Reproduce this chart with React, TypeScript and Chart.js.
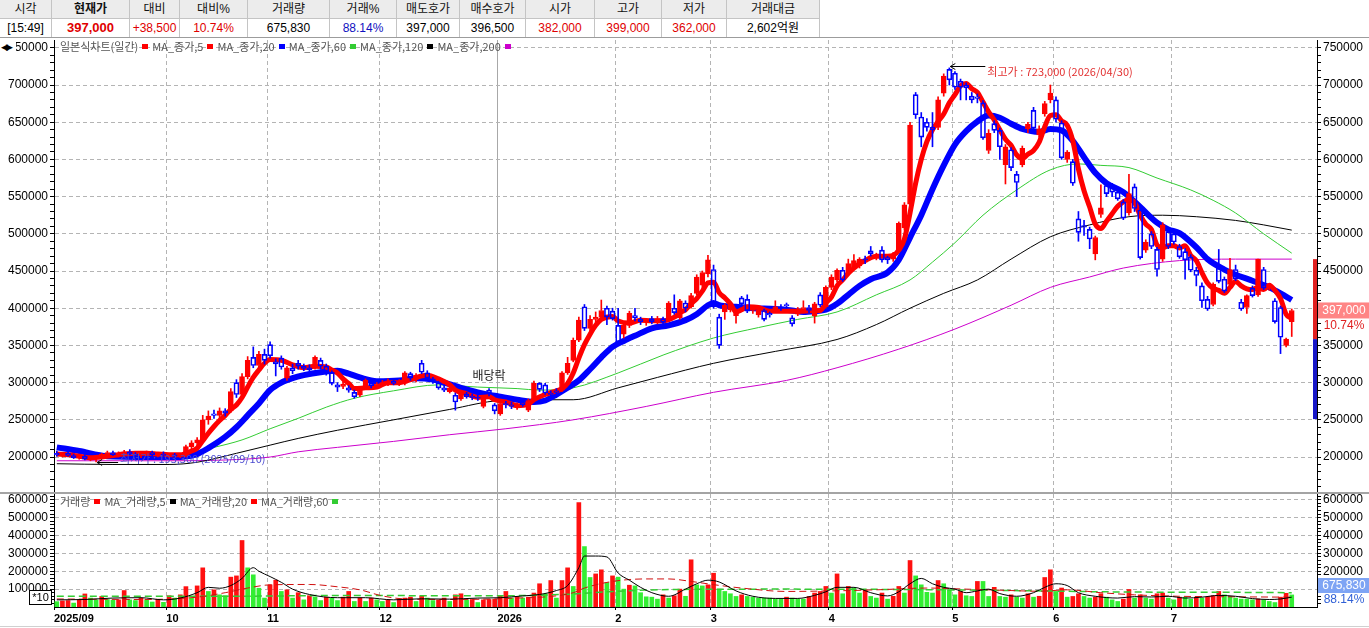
import React, { useEffect, useRef } from 'react';
import { Chart, registerables } from 'chart.js';

Chart.register(...registerables);
Chart.defaults.font.family = '"Liberation Sans", "Noto Sans CJK KR", sans-serif';

// ===== quote header =====
const HEAD_LABELS = ['시각', '현재가', '대비', '대비%', '거래량', '거래%', '매도호가', '매수호가', '시가', '고가', '저가', '거래대금'];
const HEAD_VALUES = ['[15:49]', '397,000', '+38,500', '10.74%', '675,830', '88.14%', '397,000', '396,500', '382,000', '399,000', '362,000', '2,602억원'];
const HEAD_COLORS = ['#000', '#e00000', '#e00000', '#e00000', '#000', '#1010c0', '#000', '#000', '#e00000', '#e00000', '#e00000', '#000'];
const HEAD_WIDTHS = [52, 78, 50, 68, 82, 67, 63, 66, 69, 67, 65, 93];

// ===== daily candles, thousand KRW: [open, high, low, close] =====
const OHLC_2025_09 = [
  [205, 208, 201, 203], [203, 206, 200, 205], [205, 207, 201, 202], [202, 204, 198, 199], [199, 203, 197, 201],
  [201, 203, 196, 197], [197, 200, 195, 198], [198, 201, 193.3, 200], [200, 205, 198, 204], [204, 208, 202, 206],
  [206, 208, 202, 203], [203, 207, 200, 205], [205, 209, 203, 207], [207, 210, 203, 204], [204, 206, 200, 202],
  [202, 206, 199, 205], [205, 208, 202, 206], [206, 208, 201, 203], [203, 206, 200, 204], [204, 207, 200, 202],
];
const OHLC_2025_10 = [
  [202, 205, 199, 203], [203, 205, 198, 201], [201, 205, 199, 204], [202, 216, 200, 214], [214, 222, 211, 219],
  [219, 226, 215, 223], [223, 256, 221, 250], [250, 262, 244, 255], [258, 263, 252, 256], [256, 266, 252, 262],
  [262, 265, 255, 259], [262, 292, 260, 288], [300, 304, 280, 284], [284, 312, 282, 308], [308, 335, 305, 330],
  [334, 348, 320, 323], [323, 342, 318, 338], [338, 345, 325, 330],
];
const OHLC_2025_11 = [
  [351, 355, 333, 336], [328, 332, 309, 325], [333, 336, 318, 321], [306, 322, 303, 320], [320, 325, 312, 316],
  [326, 330, 318, 322], [322, 325, 316, 319], [320, 324, 315, 317], [320, 336, 318, 334], [330, 333, 318, 322],
  [322, 325, 310, 314], [314, 316, 297, 299], [297, 300, 288, 294], [295, 302, 292, 298], [293, 296, 287, 290],
  [287, 290, 279, 281], [283, 294, 281, 292], [293, 305, 291, 303], [300, 302, 293, 296], [296, 300, 292, 298],
];
const OHLC_2025_12 = [
  [298, 303, 295, 300], [298, 305, 296, 302], [302, 304, 297, 299], [300, 304, 296, 301], [299, 315, 297, 313],
  [312, 314, 303, 306], [305, 312, 301, 310], [326, 330, 312, 314], [313, 316, 304, 306], [305, 307, 299, 302],
  [300, 302, 291, 293], [293, 297, 288, 290], [288, 295, 286, 293], [283, 286, 263, 274], [278, 288, 276, 286],
  [285, 287, 279, 281], [282, 285, 277, 280], [280, 283, 276, 279], [268, 281, 266, 279], [290, 292, 282, 285],
  [270, 272, 258, 262],
];
const OHLC_2026_01 = [
  [258, 274, 256, 272], [272, 275, 266, 270], [270, 274, 265, 268], [268, 273, 264, 271], [273, 276, 268, 270],
  [263, 278, 261, 276], [276, 302, 274, 299], [299, 300, 288, 291], [297, 299, 284, 286], [286, 289, 280, 284],
  [289, 292, 285, 287], [290, 315, 288, 313], [313, 334, 311, 326], [330, 360, 328, 357], [357, 388, 355, 384],
  [402, 405, 370, 373], [373, 390, 368, 385], [385, 395, 380, 388], [388, 411, 386, 397], [400, 403, 378, 388],
  [396, 400, 384, 386],
];
const OHLC_2026_02 = [
  [377, 400, 352, 355], [365, 380, 360, 377], [377, 396, 374, 393], [390, 400, 383, 387], [385, 388, 378, 382],
  [382, 386, 377, 383], [386, 389, 379, 382], [381, 389, 379, 386], [386, 388, 378, 381], [384, 409, 382, 407],
  [400, 418, 392, 394], [387, 412, 385, 410], [407, 410, 395, 400], [402, 420, 400, 417], [420, 445, 418, 442],
  [431, 450, 428, 448], [446, 471, 442, 465],
];
const OHLC_2026_03 = [
  [452, 458, 400, 402], [388, 392, 346, 350], [395, 406, 385, 404], [398, 409, 395, 407], [390, 399, 380, 397],
  [414, 416, 402, 406], [412, 418, 394, 396], [397, 404, 393, 402], [391, 400, 388, 398], [397, 399, 383, 385],
  [393, 395, 388, 391], [396, 410, 394, 402], [402, 405, 397, 400], [405, 407, 400, 403], [387, 390, 376, 379],
  [392, 401, 390, 399], [399, 410, 396, 401], [401, 404, 394, 397], [390, 408, 380, 406], [418, 421, 402, 404],
  [402, 430, 400, 428],
];
const OHLC_2026_04 = [
  [428, 445, 425, 442], [438, 453, 435, 451], [451, 455, 436, 438], [447, 466, 444, 460], [455, 472, 452, 464],
  [457, 468, 454, 466], [466, 470, 460, 465], [477, 483, 470, 473], [468, 474, 465, 471], [478, 483, 462, 465],
  [468, 470, 460, 465], [466, 475, 463, 472], [478, 516, 476, 514], [508, 542, 505, 539], [540, 650, 536, 646],
  [687, 690, 655, 660], [657, 663, 617, 630], [650, 655, 638, 643], [643, 663, 617, 640], [643, 684, 640, 680],
  [689, 715, 685, 712], [721, 723, 700, 707],
];
const OHLC_2026_05 = [
  [716, 718, 694, 697], [705, 708, 680, 697], [700, 703, 680, 696], [685, 690, 676, 680], [684, 688, 676, 682],
  [676, 679, 627, 629], [612, 640, 608, 635], [648, 652, 636, 639], [639, 642, 600, 617], [593, 620, 567, 617],
  [613, 616, 585, 589], [580, 584, 550, 569], [593, 618, 590, 615], [641, 650, 636, 647], [666, 670, 638, 642],
  [633, 645, 630, 641], [661, 678, 658, 675], [680, 700, 676, 689],
];
const OHLC_2026_06 = [
  [680, 684, 650, 654], [649, 652, 600, 602], [600, 612, 596, 610], [597, 600, 565, 568], [520, 530, 490, 502],
  [511, 518, 498, 509], [506, 509, 480, 493], [473, 497, 465, 495], [526, 566, 522, 535], [565, 570, 550, 554],
  [563, 568, 550, 556], [556, 560, 545, 547], [543, 546, 519, 521], [528, 580, 525, 554], [563, 567, 530, 534],
  [532, 536, 466, 468], [478, 492, 475, 489], [500, 503, 480, 483], [479, 482, 443, 452], [466, 515, 463, 512],
  [503, 506, 480, 483],
];
const OHLC_2026_07 = [
  [500, 503, 486, 489], [483, 486, 467, 469], [476, 480, 439, 465], [469, 472, 449, 451], [451, 455, 430, 444],
  [430, 434, 401, 410], [412, 416, 397, 399], [405, 434, 403, 432], [454, 479, 434, 436], [439, 442, 421, 423],
  [432, 467, 430, 452], [452, 458, 437, 439], [408, 412, 397, 399], [401, 418, 393, 417], [427, 430, 415, 417],
  [418, 466, 416, 466], [452, 455, 425, 427], [429, 433, 424, 429], [410, 413, 380, 382], [401, 403, 339, 361],
  [350, 360, 348, 358.5], [382, 399, 362, 397],
];
const CANDLES = [
  ...OHLC_2025_09, ...OHLC_2025_10, ...OHLC_2025_11, ...OHLC_2025_12, ...OHLC_2026_01, ...OHLC_2026_02,
  ...OHLC_2026_03, ...OHLC_2026_04, ...OHLC_2026_05, ...OHLC_2026_06, ...OHLC_2026_07,
];

// ===== daily volume (axis unit = x10 shares), in thousands =====
const VOL_2025_09 = [30, 34, 36, 22, 40, 73, 50, 40, 59, 42, 38, 40, 92, 40, 36, 50, 40, 28, 42, 26];
const VOL_2025_10 = [63, 50, 68, 114, 50, 118, 219, 87, 96, 68, 63, 167, 174, 372, 219, 180, 105, 50];
const VOL_2025_11 = [124, 150, 87, 96, 50, 80, 40, 63, 55, 36, 55, 50, 36, 55, 87, 31, 50, 31, 50, 40];
const VOL_2025_12 = [31, 40, 25, 44, 50, 55, 31, 63, 50, 36, 40, 50, 31, 68, 74, 40, 42, 25, 40, 42, 44];
const VOL_2026_01 = [63, 87, 50, 59, 50, 55, 78, 130, 74, 148, 50, 148, 219, 115, 584, 338, 165, 185, 208, 137, 174];
const VOL_2026_02 = [167, 100, 122, 118, 80, 57, 55, 44, 68, 50, 63, 100, 60, 264, 124, 118, 124];
const VOL_2026_03 = [189, 100, 87, 74, 59, 68, 59, 55, 50, 50, 50, 44, 44, 55, 50, 44, 44, 59, 78, 87, 115];
const VOL_2026_04 = [78, 185, 74, 115, 106, 78, 96, 59, 50, 78, 44, 60, 115, 78, 260, 174, 124, 82, 78, 148, 130, 96];
const VOL_2026_05 = [68, 87, 63, 59, 143, 143, 59, 110, 59, 55, 68, 55, 50, 74, 55, 60, 165, 208];
const VOL_2026_06 = [87, 106, 55, 59, 74, 59, 50, 55, 74, 55, 40, 31, 44, 98, 50, 68, 50, 44, 74, 78, 50];
const VOL_2026_07 = [40, 55, 55, 44, 55, 50, 55, 63, 87, 68, 59, 50, 44, 44, 40, 45, 40, 31, 25, 55, 76.677, 67.583];
const VOLUMES = [
  ...VOL_2025_09, ...VOL_2025_10, ...VOL_2025_11, ...VOL_2025_12, ...VOL_2026_01, ...VOL_2026_02,
  ...VOL_2026_03, ...VOL_2026_04, ...VOL_2026_05, ...VOL_2026_06, ...VOL_2026_07,
];

// ===== moving averages: [dayIndex, value in thousands] =====
const MA5_CLOSE = [
  [0, 204], [2, 203], [4, 201], [6, 199], [8, 200], [10, 202], [12, 204], [14, 205], [16, 205], [18, 204], [20, 203],
  [22, 203], [23, 205], [24, 208], [25, 212], [26, 222], [27, 232], [28, 241], [29, 249], [30, 256], [31, 264],
  [32, 270], [33, 280], [34, 294], [35, 307], [36, 317], [37, 326], [38, 331], [40, 330], [42, 324], [44, 320],
  [46, 322], [48, 321], [49, 317], [50, 313], [51, 305], [52, 299], [53, 292], [55, 293], [57, 294], [59, 300],
  [61, 300], [63, 304], [65, 309], [66, 310], [68, 305], [70, 297], [71, 290], [73, 285], [75, 280], [77, 281],
  [78, 277], [80, 274], [82, 269], [84, 271], [85, 277], [87, 284], [89, 289], [90, 292], [91, 299], [92, 313],
  [93, 333], [94, 351], [95, 365], [96, 377], [97, 385], [99, 389], [100, 383], [102, 380], [104, 384], [106, 383],
  [108, 383], [110, 388], [111, 394], [112, 398], [113, 406], [114, 413], [115, 423], [116, 434], [117, 435],
  [118, 421], [119, 414], [120, 406], [121, 395], [122, 398], [123, 402], [125, 401], [127, 396], [129, 396],
  [131, 396], [133, 396], [135, 397], [136, 397], [137, 407], [138, 415], [139, 430], [140, 438], [141, 447],
  [142, 454], [143, 460], [144, 464], [145, 468], [146, 470], [148, 470], [149, 471], [150, 478], [151, 493],
  [152, 528], [153, 568], [154, 600], [155, 624], [156, 640], [157, 651], [158, 661], [159, 676], [160, 687],
  [161, 699], [162, 702], [163, 695], [164, 690], [165, 677], [166, 664], [167, 653], [168, 640], [169, 627],
  [170, 619], [171, 606], [172, 601], [173, 607], [174, 612], [175, 623], [176, 644], [177, 659], [178, 660],
  [179, 652], [180, 646], [181, 625], [182, 587], [183, 558], [184, 536], [185, 513], [186, 507], [187, 517],
  [188, 527], [189, 537], [190, 543], [191, 546], [192, 542], [193, 525], [194, 513], [195, 506], [196, 485],
  [197, 481], [198, 484], [199, 484], [200, 481], [201, 484], [202, 471], [203, 464], [204, 448], [205, 434],
  [206, 427], [207, 424], [208, 420], [209, 428], [210, 436], [211, 430], [212, 426], [213, 425], [214, 428],
  [215, 425], [216, 431], [217, 424], [218, 413], [219, 392], [220, 386],
];
const MA20_CLOSE = [
  [0, 213], [4, 208], [9, 201], [16, 200], [22, 200], [25, 204], [27, 212], [30, 227], [32, 240], [34, 256],
  [36, 272], [38, 290], [40, 300], [42, 306], [44, 310], [47, 314], [50, 316], [52, 312], [54, 307], [57, 302],
  [61, 303], [64, 306], [67, 304], [69, 300], [72, 293], [75, 287], [79, 281], [82, 277], [85, 274], [87, 276],
  [89, 284], [91, 293], [93, 303], [95, 318], [97, 334], [99, 348], [101, 356], [103, 363], [106, 373], [109, 377],
  [112, 384], [114, 392], [116, 404], [117, 407], [118, 404], [121, 402], [124, 400], [128, 399], [131, 397],
  [133, 395], [135, 396], [137, 398], [139, 406], [141, 418], [143, 430], [145, 439], [148, 448], [150, 465],
  [152, 495], [154, 525], [156, 560], [158, 592], [160, 620], [162, 638], [164, 651], [166, 659], [168, 656],
  [170, 648], [172, 641], [175, 637], [177, 641], [179, 639], [181, 625], [183, 603], [185, 582], [187, 568],
  [190, 556], [193, 536], [196, 515], [198, 506], [200, 501], [203, 482], [205, 466], [208, 452], [210, 445],
  [213, 437], [216, 428], [218, 420], [220, 411],
];
const MA60_CLOSE = [
  [0, 203], [10, 201], [20, 201], [23, 205], [28, 213], [33, 223], [38, 238], [43, 252], [48, 267], [53, 279],
  [60, 289], [68, 297], [75, 294], [82, 292], [86, 290], [92, 293], [100, 313], [108, 337], [117, 360], [125, 374],
  [132, 385], [139, 395], [146, 418], [152, 438], [156, 462], [160, 488], [165, 525], [171, 559], [177, 586],
  [182, 594], [186, 592], [191, 589], [196, 575], [202, 559], [206, 545], [210, 528], [215, 500], [220, 474],
];
const MA120_CLOSE = [
  [0, 191], [10, 190], [20, 190], [25, 193], [32, 205], [38, 216], [43, 225], [50, 236], [60, 250], [70, 264],
  [79, 276], [86, 277], [92, 277], [100, 293], [107, 307], [117, 326], [128, 342], [139, 358], [146, 378],
  [152, 400], [158, 420], [164, 438], [170, 466], [177, 496], [184, 512], [191, 523], [197, 525], [203, 523],
  [210, 518], [215, 512], [220, 505],
];
const MA200_CLOSE = [
  [0, 195], [20, 195], [30, 196], [38, 200], [43, 207], [50, 213], [60, 221], [70, 230], [80, 238], [92, 250],
  [105, 268], [117, 287], [130, 303], [139, 320], [150, 345], [160, 372], [170, 404], [177, 428], [184, 442],
  [190, 454], [200, 464], [210, 466], [220, 466],
];
const MA5_VOL = [
  [0, 40], [5, 42], [10, 50], [15, 52], [19, 40], [22, 50], [25, 80], [27, 110], [29, 105], [31, 120], [33, 160],
  [35, 220], [36, 200], [38, 170], [40, 138], [42, 100], [45, 70], [50, 52], [55, 52], [60, 40], [65, 46], [70, 44],
  [75, 50], [79, 52], [83, 62], [86, 70], [89, 92], [91, 120], [93, 220], [94, 285], [96, 285], [98, 280],
  [100, 190], [102, 150], [104, 110], [106, 80], [109, 60], [112, 100], [114, 130], [116, 150], [118, 140],
  [121, 90], [124, 60], [128, 48], [132, 48], [135, 65], [137, 85], [139, 110], [142, 110], [145, 80], [148, 62],
  [150, 85], [152, 130], [154, 160], [156, 130], [158, 110], [160, 100], [162, 80], [164, 90], [166, 100],
  [168, 75], [171, 60], [174, 80], [176, 110], [178, 130], [180, 120], [182, 80], [185, 60], [189, 50], [192, 58],
  [195, 56], [198, 60], [201, 50], [204, 55], [207, 65], [210, 60], [213, 47], [216, 42], [218, 45], [220, 55],
];
const MA20_VOL = [
  [0, 45], [15, 42], [25, 55], [30, 80], [34, 106], [38, 124], [45, 126], [50, 113], [54, 96], [58, 62], [62, 45],
  [70, 42], [78, 45], [82, 50], [88, 59], [92, 80], [94, 106], [99, 143], [105, 157], [109, 157], [113, 143],
  [117, 125], [122, 106], [130, 87], [138, 90], [146, 96], [155, 106], [162, 100], [170, 92], [175, 88], [180, 96],
  [186, 80], [192, 68], [200, 60], [210, 57], [220, 55],
];
const MA60_VOL = [
  [0, 60], [30, 60], [50, 64], [79, 63], [90, 70], [100, 88], [110, 98], [130, 100], [150, 98], [170, 92],
  [190, 84], [210, 82], [220, 80],
];

// ===== axis / annotation constants =====
const MONTH_TICKS = [-0.5, 19.5, 37.5, 57.5, 78.5, 99.5, 116.5, 137.5, 159.5, 177.5, 198.5];
const MONTH_LABELS = ['2025/09', '10', '11', '12', '2026', '2', '3', '4', '5', '6', '7'];
const YEAR_TICK = 78.5;
const X_MIN = -0.5;
const X_MAX = 224.5;
const PRICE_MIN = 153000;
const PRICE_MAX = 760500;
const VOL_MAX = 632000;
const HIGH_MARK = { idx: 159, price: 723000, date: '2026/04/30' };
const LOW_MARK = { idx: 7, price: 193300, date: '2025/09/10' };
const EXDIV_MARK = { idx: 77, text: '배당락' };
const LAST = { price: 397000, rate: '10.74%', prevClose: 358500, upper: 466000, lower: 251000 };
const LAST_VOL = { text: '675,830', rate: '88.14%' };

const K = 1000;
const UP = '#ff0000';
const DOWN = '#0000ff';
const GREEN = '#33cc33';
const MAGENTA = '#cc00cc';
const GRID = '#b4b4b4';
const AX_FONT = { family: 'Liberation Sans', size: 12 };
const KR_FONT = '"Noto Sans CJK KR", sans-serif';

const fmt = (v: number) => v.toLocaleString('en-US');

function tickList(from: number, to: number, step: number) {
  const out: any[] = [];
  for (let v = from; v <= to; v += step) out.push({ value: v });
  return out;
}

function yAxis(position: string, width: number, gridOn: boolean, min: number, max: number, ticks: () => any[], major: number, minLabel: number) {
  return {
    type: 'linear',
    position,
    min,
    max,
    afterBuildTicks: (s: any) => { s.ticks = ticks(); },
    ticks: {
      autoSkip: false,
      font: AX_FONT,
      color: '#000',
      padding: 2,
      callback: (v: number) => (v % major === 0 && v >= minLabel ? String(v) : ''),
    },
    grid: {
      drawOnChartArea: gridOn,
      color: (c: any) => (c.tick && c.tick.value % major === 0 ? GRID : 'rgba(0,0,0,0)'),
      tickColor: '#000',
      tickLength: 4,
      lineWidth: 1,
    },
    border: { display: true, color: '#000', width: 1, dash: [4, 3] },
    afterFit: (s: any) => { s.width = width; s.paddingTop = 0; s.paddingBottom = 0; },
  };
}

function lineDs(pts: number[][], color: string, width: number, order: number, axis: string, dash?: number[]) {
  return {
    type: 'line',
    data: pts.map(([x, v]) => ({ x, y: v * K })),
    borderColor: color,
    borderWidth: width,
    borderDash: dash || [],
    pointRadius: 0,
    fill: false,
    cubicInterpolationMode: 'monotone',
    order,
    xAxisID: 'x',
    yAxisID: axis,
  };
}

const priceOverlay = {
  id: 'priceOverlay',
  afterDraw(chart: any) {
    const { ctx, chartArea } = chart;
    const xs = chart.scales.x;
    const ys = chart.scales.y;
    ctx.save();
    ctx.lineWidth = 1;
    ctx.strokeStyle = '#000';
    // highest price mark
    const hx = xs.getPixelForValue(HIGH_MARK.idx);
    const hy = Math.round(ys.getPixelForValue(HIGH_MARK.price)) - 1.5;
    ctx.beginPath();
    ctx.moveTo(hx + 1, hy); ctx.lineTo(hx + 36, hy);
    ctx.moveTo(hx + 1, hy); ctx.lineTo(hx + 6, hy - 3);
    ctx.moveTo(hx + 1, hy); ctx.lineTo(hx + 6, hy + 3);
    ctx.stroke();
    ctx.font = '11px ' + KR_FONT;
    ctx.textBaseline = 'middle';
    ctx.textAlign = 'left';
    ctx.fillStyle = '#e23030';
    ctx.fillText(`최고가 : ${fmt(HIGH_MARK.price)} (${HIGH_MARK.date})`, hx + 38, hy + 5);
    // lowest price mark
    const lx = xs.getPixelForValue(LOW_MARK.idx);
    const ly = Math.round(ys.getPixelForValue(LOW_MARK.price)) + 0.5;
    ctx.beginPath();
    ctx.moveTo(lx + 1, ly); ctx.lineTo(lx + 22, ly);
    ctx.moveTo(lx + 1, ly); ctx.lineTo(lx + 6, ly - 3);
    ctx.moveTo(lx + 1, ly); ctx.lineTo(lx + 6, ly + 3);
    ctx.stroke();
    ctx.fillStyle = '#4a4ad0';
    ctx.fillText(`최저가 : ${fmt(LOW_MARK.price)} (${LOW_MARK.date})`, lx + 24, ly - 4);
    // ex-dividend mark
    const ex = CANDLES[EXDIV_MARK.idx];
    ctx.font = '12px ' + KR_FONT;
    ctx.textAlign = 'center';
    ctx.fillStyle = '#222';
    ctx.fillText(EXDIV_MARK.text, xs.getPixelForValue(EXDIV_MARK.idx), ys.getPixelForValue(ex[1] * K) - 13);
    // price-limit bar on the right axis
    const yu = ys.getPixelForValue(LAST.upper);
    const yp = ys.getPixelForValue(LAST.prevClose);
    const yl = ys.getPixelForValue(LAST.lower);
    ctx.fillStyle = '#e02020';
    ctx.fillRect(chartArea.right - 4, yu, 4, yp - yu);
    ctx.fillStyle = '#1616c8';
    ctx.fillRect(chartArea.right - 4, yp, 4, yl - yp);
    // current price label
    const py = ys.getPixelForValue(LAST.price);
    const bx = chartArea.right + 1;
    ctx.fillStyle = '#ff8585';
    ctx.fillRect(bx, py - 8, 51, 16);
    ctx.font = '12px "Liberation Sans"';
    ctx.fillStyle = '#fff';
    ctx.fillText(fmt(LAST.price), bx + 26, py);
    ctx.fillStyle = '#e02020';
    ctx.fillText(LAST.rate, bx + 26, py + 15);
    ctx.restore();
  },
};

const volOverlay = {
  id: 'volOverlay',
  afterDraw(chart: any) {
    const { ctx, chartArea } = chart;
    ctx.save();
    ctx.textBaseline = 'middle';
    ctx.textAlign = 'center';
    ctx.font = '11px "Liberation Sans"';
    // unit box
    const ux = chartArea.left - 24.5;
    const uy = chartArea.bottom - 16.5;
    ctx.fillStyle = '#fff';
    ctx.fillRect(ux, uy, 22, 14);
    ctx.strokeStyle = '#000';
    ctx.lineWidth = 1;
    ctx.strokeRect(ux, uy, 22, 14);
    ctx.fillStyle = '#000';
    ctx.fillText('*10', ux + 11, uy + 7);
    // current volume label
    const bx = chartArea.right + 1;
    const by = chartArea.bottom - 29;
    ctx.fillStyle = '#7ea4f4';
    ctx.fillRect(bx, by, 51, 15);
    ctx.font = '12px "Liberation Sans"';
    ctx.fillStyle = '#fff';
    ctx.fillText(LAST_VOL.text, bx + 26, by + 7.5);
    ctx.fillStyle = '#2f5fd6';
    ctx.fillText(LAST_VOL.rate, bx + 26, by + 22);
    ctx.restore();
  },
};

function priceConfig(): any {
  const up = (c: number[]) => c[3] >= c[0];
  const colors = CANDLES.map((c) => (up(c) ? UP : DOWN));
  const common = { type: 'bar', grouped: false, yAxisID: 'y', xAxisID: 'x' };
  return {
    type: 'bar',
    data: {
      datasets: [
        { ...common, data: CANDLES.map((c, i) => ({ x: i, y: [Math.max(c[0], c[3]) * K, c[1] * K] })), backgroundColor: colors, barThickness: 1, order: 3 },
        { ...common, data: CANDLES.map((c, i) => ({ x: i, y: [c[2] * K, Math.min(c[0], c[3]) * K] })), backgroundColor: colors, barThickness: 1, order: 3 },
        {
          ...common,
          data: CANDLES.map((c, i) => ({ x: i, y: [c[0] * K, c[3] * K] })),
          backgroundColor: CANDLES.map((c) => (up(c) ? UP : 'rgba(255,255,255,0)')),
          borderColor: colors,
          borderWidth: 1,
          borderSkipped: false,
          barThickness: 5,
          minBarLength: 1,
          order: 2,
        },
        lineDs(MA200_CLOSE, MAGENTA, 1, 20, 'y'),
        lineDs(MA120_CLOSE, '#000', 1, 19, 'y'),
        lineDs(MA60_CLOSE, GREEN, 1, 18, 'y'),
        lineDs(MA20_CLOSE, '#0000ff', 6, 17, 'y'),
        lineDs(MA5_CLOSE, '#ff0000', 5, 16, 'y'),
      ],
    },
    options: {
      responsive: false,
      animation: false,
      events: [],
      layout: { padding: { top: 2, bottom: 2, left: 0, right: 0 }, autoPadding: false },
      plugins: { legend: { display: false }, tooltip: { enabled: false } },
      scales: {
        x: {
          type: 'linear',
          min: X_MIN,
          max: X_MAX,
          offset: false,
          afterBuildTicks: (s: any) => { s.ticks = MONTH_TICKS.slice(1).map((v) => ({ value: v })); },
          ticks: { display: false },
          grid: { offset: false, color: (c: any) => (c.tick && c.tick.value === YEAR_TICK ? '#a8a8a8' : GRID), drawTicks: false, lineWidth: 1 },
          border: { display: false, dash: (c: any) => (c.tick && c.tick.value === YEAR_TICK ? [] : [4, 3]) },
          afterFit: (s: any) => { s.height = 0; s.paddingLeft = 0; s.paddingRight = 0; },
        },
        y: yAxis('left', 54, true, PRICE_MIN, PRICE_MAX, () => tickList(160000, 750000, 10000), 50000, 200000),
        yR: yAxis('right', 52, false, PRICE_MIN, PRICE_MAX, () => tickList(160000, 750000, 10000), 50000, 200000),
      },
    },
    plugins: [priceOverlay],
  };
}

function volConfig(): any {
  const colors = VOLUMES.map((v, i) => (i > 0 && v > VOLUMES[i - 1] ? '#ff1010' : '#33ee33'));
  return {
    type: 'bar',
    data: {
      datasets: [
        { type: 'bar', xAxisID: 'x', yAxisID: 'v', data: VOLUMES.map((v, i) => ({ x: i, y: v * K })), backgroundColor: colors, barThickness: 4, grouped: false, order: 10 },
        lineDs(MA60_VOL, GREEN, 1.5, 3, 'v', [7, 4]),
        lineDs(MA20_VOL, '#d01010', 1, 2, 'v', [7, 4]),
        lineDs(MA5_VOL, '#000', 1, 1, 'v'),
      ],
    },
    options: {
      responsive: false,
      animation: false,
      events: [],
      layout: { padding: { top: 0, bottom: 0, left: 0, right: 0 }, autoPadding: false },
      plugins: { legend: { display: false }, tooltip: { enabled: false } },
      scales: {
        x: {
          type: 'linear',
          position: 'bottom',
          min: X_MIN,
          max: X_MAX,
          offset: false,
          afterBuildTicks: (s: any) => { s.ticks = MONTH_TICKS.map((v) => ({ value: v })); },
          ticks: {
            autoSkip: false,
            maxRotation: 0,
            minRotation: 0,
            align: 'start',
            padding: 2,
            color: '#000',
            font: { family: 'Liberation Sans', size: 11, weight: 'bold' },
            callback: (_v: number, idx: number) => MONTH_LABELS[idx],
          },
          grid: {
            offset: false,
            color: (c: any) => (!c.tick || c.tick.value === X_MIN ? 'rgba(0,0,0,0)' : c.tick.value === YEAR_TICK ? '#a8a8a8' : GRID),
            tickColor: '#000',
            tickLength: 3,
            lineWidth: 1,
          },
          border: { display: true, color: '#000', dash: (c: any) => (c.tick && c.tick.value === YEAR_TICK ? [] : [4, 3]) },
          afterFit: (s: any) => { s.height = 21; s.paddingLeft = 0; s.paddingRight = 0; },
        },
        v: yAxis('left', 54, true, 0, VOL_MAX, () => tickList(20000, 620000, 20000), 100000, 100000),
        vR: yAxis('right', 52, false, 0, VOL_MAX, () => tickList(20000, 620000, 20000), 100000, 100000),
      },
    },
    plugins: [volOverlay],
  };
}

function Legend({ items, top, left }: { items: [string, string][]; top: number; left: number }) {
  return (
    <div style={{ position: 'absolute', top, left, display: 'flex', alignItems: 'center', font: '11px ' + KR_FONT, color: '#555', whiteSpace: 'nowrap', lineHeight: '12px' }}>
      {items.map(([t, c], i) => (
        <React.Fragment key={i}>
          <span>{t}</span>
          <span style={{ display: 'inline-block', width: 6, height: 5, background: c, margin: '0 4px 0 4px' }} />
        </React.Fragment>
      ))}
    </div>
  );
}

function Header() {
  const lefts: number[] = [];
  HEAD_WIDTHS.reduce((acc, w) => { lefts.push(acc); return acc + w; }, 0);
  const base: any = {
    position: 'absolute', height: 19, boxSizing: 'border-box', textAlign: 'center',
    borderRight: '1px solid #c4c4c4', borderBottom: '1px solid #c4c4c4', whiteSpace: 'nowrap',
    font: '12px "Liberation Sans", "Noto Sans CJK KR", sans-serif', lineHeight: '18px',
  };
  return (
    <div style={{ position: 'absolute', left: 0, top: 0, width: 820, height: 38 }}>
      {HEAD_LABELS.map((t, i) => (
        <React.Fragment key={i}>
          <div style={{ ...base, left: lefts[i], top: 0, width: HEAD_WIDTHS[i], background: '#ececec', color: '#111', fontWeight: i === 1 ? 'bold' : 'normal' }}>{t}</div>
          <div style={{ ...base, left: lefts[i], top: 19, width: HEAD_WIDTHS[i], background: '#fff', color: HEAD_COLORS[i], fontWeight: i === 1 ? 'bold' : 'normal', fontSize: i === 1 ? 13 : 12 }}>{HEAD_VALUES[i]}</div>
        </React.Fragment>
      ))}
    </div>
  );
}

export default function App() {
  const priceRef = useRef<HTMLCanvasElement>(null);
  const volRef = useRef<HTMLCanvasElement>(null);

  useEffect(() => {
    const pc = new Chart(priceRef.current as HTMLCanvasElement, priceConfig());
    const vc = new Chart(volRef.current as HTMLCanvasElement, volConfig());
    return () => { pc.destroy(); vc.destroy(); };
  }, []);

  return (
    <div style={{ position: 'fixed', left: 0, top: 0, width: 1369, height: 628, background: '#fff', overflow: 'hidden' }}>
      <Header />
      <div style={{ position: 'absolute', left: 0, top: 37, width: 1369, height: 1, background: '#9c9c9c' }} />
      <canvas ref={priceRef} width={1369} height={456} style={{ position: 'absolute', left: 0, top: 38, width: 1369, height: 456 }} />
      <canvas ref={volRef} width={1369} height={134} style={{ position: 'absolute', left: 0, top: 494, width: 1369, height: 134 }} />
      <div style={{ position: 'absolute', left: 0, top: 492, width: 1369, height: 2, background: '#a4a4a4' }} />
      <div style={{ position: 'absolute', left: 0, top: 626, width: 1369, height: 1, background: '#d0d0d0' }} />
      <div style={{ position: 'absolute', left: 0, top: 41, width: 16, height: 12, background: '#fff', font: '9px "DejaVu Sans"', lineHeight: '12px', letterSpacing: -2, color: '#000', paddingLeft: 1, boxSizing: 'border-box' }}>◀▶</div>
      <Legend top={40} left={60} items={[['일본식차트(일간)', UP], ['MA_종가,5', UP], ['MA_종가,20', DOWN], ['MA_종가,60', GREEN], ['MA_종가,120', '#000'], ['MA_종가,200', MAGENTA]]} />
      <Legend top={495} left={60} items={[['거래량', UP], ['MA_거래량,5', '#000'], ['MA_거래량,20', UP], ['MA_거래량,60', GREEN]]} />
    </div>
  );
}
